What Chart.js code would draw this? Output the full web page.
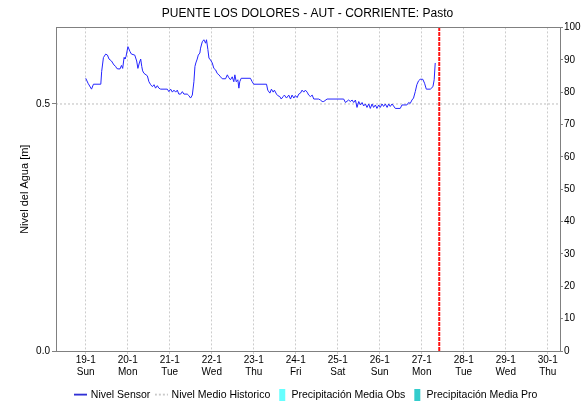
<!DOCTYPE html>
<html>
<head>
<meta charset="utf-8">
<script src="https://cdn.jsdelivr.net/npm/chart.js@4.4.1/dist/chart.umd.min.js"></script>
<style>
  html, body { margin: 0; padding: 0; background: #fff; }
</style>
</head>
<body>
<canvas id="grafico" width="581" height="403"></canvas>
<script>
// eje x en horas desde 19-1 00:00 (ventana 18-1 07:00 .. 30-1 07:00)
const horaInicio = -17;
const horaFin = 271;
const horaActual = 202;

const diasHoras = [0, 24, 48, 72, 96, 120, 144, 168, 192, 216, 240, 264];
const diasFecha = ['19-1', '20-1', '21-1', '22-1', '23-1', '24-1', '25-1', '26-1', '27-1', '28-1', '29-1', '30-1'];
const diasSemana = ['Sun', 'Mon', 'Tue', 'Wed', 'Thu', 'Fri', 'Sat', 'Sun', 'Mon', 'Tue', 'Wed', 'Thu'];

const nivelTicks = [0, 0.5];
const nivelMaximo = 0.655;
const nivelMedio = 0.5;
const precipMaximo = 100;

// Nivel Sensor (horas, metros)
const sensorHoras = [
  0, 1.3, 3.3, 4.4, 8.6, 9.1, 10.1, 11.4, 12.4, 13.3,
  14.7, 16.1, 17.1, 17.7, 18.4, 19.6, 20.4, 21.1, 21.9, 22.4,
  23.0, 24.1, 25.3, 26.1, 28.0, 29.1, 29.8, 30.6, 31.4, 32.0,
  32.5, 33.3, 35.2, 36.1, 37.1, 38.1, 39.0, 39.9, 40.9, 41.8,
  42.8, 46.6, 47.5, 48.5, 49.5, 50.4, 51.4, 52.3, 53.2, 54.2,
  55.2, 56.1, 58.0, 58.9, 59.9, 60.9, 61.8, 62.4, 62.9, 63.7,
  64.3, 65.2, 65.6, 66.6, 67.5, 68.5, 69.0, 69.8, 70.4, 71.3,
  72.3, 73.2, 74.2, 75.1, 76.1, 77.0, 78.0, 79.9, 80.9, 81.8,
  82.7, 83.7, 84.6, 85.2, 86.0, 86.9, 87.5, 88.0, 88.8, 94.1,
  95.1, 96.0, 103.3, 104.0, 105.2, 106.1, 107.1, 107.8, 109.0, 109.7,
  110.9, 111.7, 112.8, 113.5, 114.7, 116.0, 117.0, 117.9, 118.9, 119.8,
  120.8, 121.7, 122.7, 123.6, 124.6, 125.5, 126.5, 127.4, 128.4, 129.4,
  130.3, 133.1, 134.1, 135.1, 136.0, 137.9, 147.4, 148.4, 150.2, 151.2,
  152.2, 153.1, 154.1, 155.0, 156.0, 156.9, 157.9, 158.8, 159.8, 160.7,
  161.7, 162.6, 163.6, 164.5, 165.5, 166.4, 167.4, 168.3, 169.3, 170.2,
  171.2, 172.2, 173.1, 174.0, 175.0, 175.9, 176.9, 179.7, 180.7, 183.5,
  184.5, 185.4, 186.4, 187.3, 188.3, 189.2, 190.2, 191.1, 192.6, 193.6,
  194.6, 196.9, 198.4, 199.1, 199.7
];
const sensorNivel = [
  0.552, 0.542, 0.530, 0.540, 0.540, 0.566, 0.594, 0.601, 0.599, 0.591,
  0.587, 0.579, 0.576, 0.572, 0.571, 0.571, 0.578, 0.572, 0.594, 0.591,
  0.596, 0.616, 0.606, 0.601, 0.599, 0.587, 0.572, 0.583, 0.591, 0.576,
  0.567, 0.562, 0.557, 0.545, 0.539, 0.535, 0.539, 0.532, 0.537, 0.532,
  0.530, 0.530, 0.525, 0.530, 0.524, 0.528, 0.524, 0.528, 0.520, 0.520,
  0.525, 0.520, 0.520, 0.517, 0.512, 0.518, 0.545, 0.576, 0.583, 0.591,
  0.599, 0.603, 0.613, 0.626, 0.630, 0.623, 0.630, 0.610, 0.593, 0.589,
  0.583, 0.572, 0.569, 0.562, 0.559, 0.555, 0.551, 0.551, 0.559, 0.553,
  0.549, 0.555, 0.545, 0.559, 0.545, 0.549, 0.532, 0.545, 0.552, 0.552,
  0.545, 0.540, 0.540, 0.528, 0.522, 0.530, 0.524, 0.528, 0.520, 0.517,
  0.515, 0.510, 0.515, 0.518, 0.512, 0.518, 0.510, 0.518, 0.512, 0.517,
  0.513, 0.520, 0.522, 0.528, 0.524, 0.528, 0.524, 0.518, 0.515, 0.518,
  0.510, 0.510, 0.508, 0.505, 0.505, 0.510, 0.510, 0.503, 0.508, 0.505,
  0.508, 0.503, 0.508, 0.493, 0.505, 0.498, 0.503, 0.496, 0.500, 0.493,
  0.500, 0.491, 0.500, 0.493, 0.498, 0.491, 0.498, 0.493, 0.500, 0.495,
  0.500, 0.493, 0.500, 0.495, 0.500, 0.496, 0.491, 0.491, 0.498, 0.498,
  0.503, 0.501, 0.508, 0.512, 0.525, 0.539, 0.547, 0.550, 0.550, 0.542,
  0.530, 0.530, 0.535, 0.549, 0.583
];

// precipitacion: sin datos en este periodo
const precipObs = [];
const precipPro = [];

Chart.defaults.font.family = '"Liberation Sans", Arial, sans-serif';
Chart.defaults.font.size = 10;
Chart.defaults.color = '#000';

// marcas de la leyenda
function lineaLeyenda(color, dash) {
  const c = document.createElement('canvas');
  c.width = 13; c.height = 3;
  const g = c.getContext('2d');
  g.strokeStyle = color;
  g.lineWidth = 1.5;
  g.setLineDash(dash);
  g.beginPath(); g.moveTo(0, 1.5); g.lineTo(13, 1.5); g.stroke();
  return c;
}
function cajaLeyenda(color) {
  const c = document.createElement('canvas');
  c.width = 10; c.height = 12;
  const g = c.getContext('2d');
  g.fillStyle = color;
  g.fillRect(3, 0, 6, 12);
  return c;
}

const marco = {
  id: 'marco',
  afterLayout(chart) {
    // centrar titulo y leyenda sobre el area del grafico
    chart.titleBlock.left += 17;
    chart.titleBlock.right += 17;
    chart.legend.left += 16;
    chart.legend.right += 16;
  },
  afterDatasetsDraw(chart) {
    const a = chart.chartArea;
    const ctx = chart.ctx;
    ctx.save();
    ctx.strokeStyle = '#808080';
    ctx.lineWidth = 1;
    ctx.strokeRect(Math.round(a.left) + 0.5, Math.round(a.top) + 0.5, Math.round(a.right - a.left), Math.round(a.bottom - a.top));
    ctx.restore();
  }
};

new Chart(document.getElementById('grafico'), {
  type: 'line',
  data: {
    datasets: [
      {
        label: 'Nivel Sensor',
        data: sensorHoras.map((h, i) => ({ x: h, y: sensorNivel[i] })),
        borderColor: '#2424ff',
        borderWidth: 1,
        pointRadius: 0,
        yAxisID: 'y'
      },
      {
        label: 'Nivel Medio Historico',
        data: [{ x: horaInicio, y: nivelMedio }, { x: horaFin, y: nivelMedio }],
        borderColor: '#bdbdbd',
        borderDash: [2, 2],
        borderWidth: 1,
        pointRadius: 0,
        yAxisID: 'y'
      },
      {
        type: 'bar',
        label: 'Precipitación Media Obs',
        data: precipObs,
        backgroundColor: '#66ffff',
        yAxisID: 'y2'
      },
      {
        type: 'bar',
        label: 'Precipitación Media Pro',
        data: precipPro,
        backgroundColor: '#33cccc',
        yAxisID: 'y2'
      },
      {
        label: 'Ahora',
        data: [{ x: horaActual, y: 0 }, { x: horaActual, y: nivelMaximo }],
        borderColor: '#ff1010',
        borderDash: [4, 1],
        borderWidth: 2,
        pointRadius: 0,
        yAxisID: 'y'
      }
    ]
  },
  options: {
    responsive: false,
    animation: false,
    events: [],
    layout: { padding: { top: 0, left: 0, right: 0, bottom: -7 } },
    plugins: {
      tooltip: { enabled: false },
      title: {
        display: true,
        text: 'PUENTE LOS DOLORES - AUT - CORRIENTE: Pasto',
        font: { size: 12, weight: 'normal' },
        padding: { top: 6, bottom: 7 }
      },
      legend: {
        position: 'bottom',
        labels: {
          usePointStyle: true,
          pointStyleWidth: 10,
          boxHeight: 10.5,
          padding: 6,
          font: { size: 10.5 },
          generateLabels: (chart) => {
            const ds = chart.data.datasets;
            return [
              { text: ds[0].label, datasetIndex: 0, pointStyle: lineaLeyenda('#0000cc', []), lineWidth: 0 },
              { text: ds[1].label, datasetIndex: 1, pointStyle: lineaLeyenda('#bdbdbd', [2, 2]), lineWidth: 0 },
              { text: ds[2].label, datasetIndex: 2, pointStyle: cajaLeyenda('#66ffff'), lineWidth: 0 },
              { text: ds[3].label, datasetIndex: 3, pointStyle: cajaLeyenda('#33cccc'), lineWidth: 0 }
            ];
          }
        }
      }
    },
    scales: {
      x: {
        type: 'linear',
        offset: false,
        min: horaInicio,
        max: horaFin,
        afterBuildTicks: (s) => { s.ticks = diasHoras.map(v => ({ value: v })); },
        ticks: {
          autoSkip: false,
          maxRotation: 0,
          padding: 0,
          callback: (v) => {
            const i = diasHoras.indexOf(v);
            return [diasFecha[i], diasSemana[i]];
          }
        },
        grid: { offset: false, color: '#cccccc', tickLength: 3, tickColor: '#cccccc' },
        border: { color: '#808080', dash: [2, 2] },
        afterFit: (s) => { s.height = 32.5; }
      },
      y: {
        position: 'left',
        min: 0,
        max: nivelMaximo,
        afterBuildTicks: (s) => { s.ticks = nivelTicks.map(v => ({ value: v })); },
        ticks: { padding: 2, callback: (v) => v.toFixed(1) },
        grid: { drawOnChartArea: false, tickLength: 4, tickColor: '#808080' },
        border: { color: '#808080' },
        title: {
          display: true,
          text: 'Nivel del Agua [m]',
          font: { size: 11 },
          padding: { top: 18, bottom: 0 }
        },
        afterFit: (s) => { s.width = 56; }
      },
      y2: {
        position: 'right',
        min: 0,
        max: precipMaximo,
        ticks: { stepSize: 10, padding: 1 },
        grid: { drawOnChartArea: false, tickLength: 3, tickColor: '#808080' },
        border: { color: '#808080' },
        afterFit: (s) => { s.width = 21; }
      }
    }
  },
  plugins: [marco]
});
</script>
</body>
</html>
